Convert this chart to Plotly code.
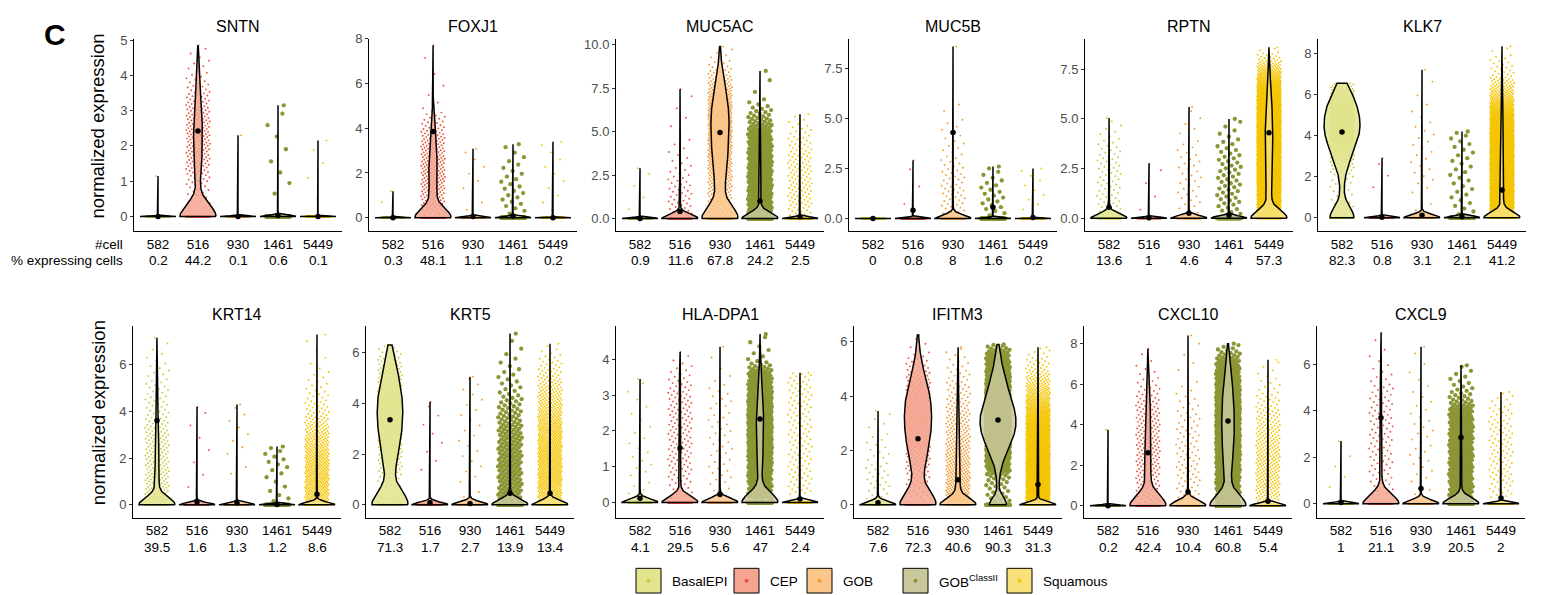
import numpy as np
import plotly.graph_objects as go

# ---------------- data ----------------
GROUPS = ["BasalEPI", "CEP", "GOB", "GOB<sup>ClassII</sup>", "Squamous"]
NCELL = [582, 516, 930, 1461, 5449]
GENES = ["SNTN", "FOXJ1", "MUC5AC", "MUC5B", "RPTN", "KLK7",
         "KRT14", "KRT5", "HLA-DPA1", "IFITM3", "CXCL10", "CXCL9"]

PCT = {
    "SNTN": [0.2, 44.2, 0.1, 0.6, 0.1],
    "FOXJ1": [0.3, 48.1, 1.1, 1.8, 0.2],
    "MUC5AC": [0.9, 11.6, 67.8, 24.2, 2.5],
    "MUC5B": [0, 0.8, 8, 1.6, 0.2],
    "RPTN": [13.6, 1, 4.6, 4, 57.3],
    "KLK7": [82.3, 0.8, 3.1, 2.1, 41.2],
    "KRT14": [39.5, 1.6, 1.3, 1.2, 8.6],
    "KRT5": [71.3, 1.7, 2.7, 13.9, 13.4],
    "HLA-DPA1": [4.1, 29.5, 5.6, 47, 2.4],
    "IFITM3": [7.6, 72.3, 40.6, 90.3, 31.3],
    "CXCL10": [0.2, 42.4, 10.4, 60.8, 5.4],
    "CXCL9": [1, 21.1, 3.9, 20.5, 2],
}

MAXV = {
    "SNTN": [1.15, 4.85, 2.3, 3.15, 2.15],
    "FOXJ1": [1.18, 7.7, 3.08, 3.29, 3.4],
    "MUC5AC": [2.9, 7.45, 9.9, 8.5, 6.0],
    "MUC5B": [0, 2.9, 8.6, 2.6, 2.5],
    "RPTN": [5.05, 2.75, 5.6, 5.0, 8.6],
    "KLK7": [6.55, 2.9, 7.2, 4.2, 8.35],
    "KRT14": [7.16, 4.2, 4.3, 2.5, 7.3],
    "KRT5": [6.3, 4.05, 5.05, 6.75, 6.35],
    "HLA-DPA1": [3.45, 4.2, 4.35, 4.7, 3.62],
    "IFITM3": [3.45, 6.25, 5.8, 5.9, 5.8],
    "CXCL10": [3.75, 7.75, 8.4, 8.0, 7.2],
    "CXCL9": [2.7, 7.35, 6.75, 5.95, 4.8],
}

MEANV = {
    "SNTN": [0, 2.42, 0, 0.03, 0],
    "FOXJ1": [0, 3.85, 0.05, 0.08, 0],
    "MUC5AC": [0, 0.4, 4.95, 1.0, 0.1],
    "MUC5B": [0, 0.42, 4.3, 0.57, 0.05],
    "RPTN": [0.55, 0.02, 0.25, 0.15, 4.3],
    "KLK7": [4.18, 0.02, 0.12, 0.05, 1.35],
    "KRT14": [3.62, 0.12, 0.08, 0.02, 0.45],
    "KRT5": [3.35, 0.08, 0.05, 0.45, 0.45],
    "HLA-DPA1": [0.12, 1.52, 0.22, 2.33, 0.1],
    "IFITM3": [0.08, 2.43, 0.92, 3.12, 0.75],
    "CXCL10": [0, 2.62, 0.68, 4.18, 0.22],
    "CXCL9": [0.05, 3.7, 0.65, 2.85, 0.25],
}

# density profile of the expressing cells (knot levels and relative densities)
KNOT_Y = {
    "SNTN": [[0.1, 1.15], [0.1, 0.8, 1.5, 2.4, 3.2, 4.0, 4.85], [0.1, 2.3], [0.5, 1.2, 2.0, 2.7, 3.15], [0.1, 1.7, 2.15]],
    "FOXJ1": [[0.2, 1.18], [0.1, 0.5, 1.5, 2.5, 3.5, 4.3, 5, 6, 7.7], [0.2, 3.08], [0.1, 0.5, 1.2, 2.2, 3.3], [0.2, 3.4]],
    "MUC5AC": [[0.2, 2.9], [0.1, 1, 2, 3, 4, 5, 6, 7.5], [0.1, 1, 2, 3, 4, 5, 6, 7, 8, 9, 9.9],
               [0.1, 1, 2, 3, 4, 5, 6, 6.5, 7, 8.5], [0.1, 1, 2, 3, 4, 5, 6]],
    "MUC5B": [[0, 0], [0.3, 2.9], [0.1, 1, 2, 3, 4, 5, 6], [0.1, 0.5, 1.2, 2, 2.6], [0.1, 2.5]],
    "RPTN": [[0.1, 1, 2, 3, 4, 5], [0.1, 2.75], [0.1, 1, 2, 3, 4, 5.6], [0.1, 1, 2, 3, 4, 5],
             [0.1, 1, 2, 3, 4, 5, 6, 7, 8, 8.6]],
    "KLK7": [[0.1, 0.5, 1, 2, 3, 4, 5, 6, 6.55], [1.2, 2.9], [0.2, 1, 2, 3, 4, 5, 6, 7.2], [0.1, 4.2],
             [0.1, 1, 2, 3, 4, 5, 6, 7, 8.35]],
    "KRT14": [[0.1, 1, 2, 3, 4, 5, 6, 7.16], [0.5, 4.2], [1.2, 4.3], [0.1, 0.5, 1, 1.8, 2.5],
              [0.1, 1, 2, 3, 4, 5, 6, 7.3]],
    "KRT5": [[0.1, 0.5, 1, 2, 3, 4, 5, 6, 6.3], [1.2, 4.05], [0.2, 5.05], [0.1, 1, 2, 3, 3.8, 4.5, 5.5, 6.75],
             [0.1, 1, 2, 3, 4, 5, 6, 6.35]],
    "HLA-DPA1": [[0.2, 1, 2, 3.45], [0.1, 0.5, 1, 2, 3, 3.5, 4.2], [0.3, 1, 2, 3, 3.6, 4.35],
                 [0.1, 0.5, 1, 1.5, 2, 2.5, 3, 3.5, 4, 4.7], [0.2, 3.62]],
    "IFITM3": [[0.2, 1, 2, 3.45], [0.1, 0.5, 1, 1.5, 2, 3, 4, 5, 5.5, 6.25], [0.1, 1, 2, 3, 4, 5, 5.8],
               [0.1, 0.5, 1, 1.5, 2, 2.5, 3, 3.5, 4, 5, 5.9], [0.1, 1, 2, 3, 4, 5, 5.8]],
    "CXCL10": [[0.1, 3.75], [0.1, 1, 2, 3, 4, 5, 6, 7, 7.75], [0.2, 1, 2, 3, 4, 5, 6, 8.4],
               [0.1, 1, 2, 3, 4, 5, 6, 7, 8], [0.2, 1, 2, 3, 4, 5, 6, 7.2]],
    "CXCL9": [[0.5, 2.7], [0.3, 1, 2, 3, 4, 5, 5.5, 6.5, 7.35], [0.3, 1, 2, 3, 4, 5, 6.75],
              [0.1, 1, 2, 3, 4, 4.5, 5, 6], [0.2, 1, 2, 3, 4, 4.8]],
}
KNOT_W = {
    "SNTN": [[1, 1], [0.1, 0.3, 0.8, 1, 0.7, 0.2, 0.05], [1, 1], [1, 1, 0.8, 1, 0.5], [0.3, 1, 0.5]],
    "FOXJ1": [[1, 1], [0.3, 0.7, 1, 1, 0.8, 0.4, 0.05, 0.03, 0.01], [1, 1], [0.6, 1, 1, 0.7, 0.3], [1, 1]],
    "MUC5AC": [[1, 1], [1, 1, 0.8, 0.4, 0.25, 0.12, 0.1, 0.05], [0.3, 0.4, 0.55, 0.75, 0.9, 1, 1, 0.8, 0.4, 0.12, 0.02],
               [1, 1, 1, 0.95, 0.85, 0.6, 0.3, 0.15, 0.03, 0.01], [0.6, 1, 1, 1, 0.8, 0.5, 0.1]],
    "MUC5B": [[1, 1], [1, 1], [1, 1, 0.9, 0.5, 0.35, 0.25, 0.05], [0.8, 1, 1, 0.7, 0.5], [1, 1]],
    "RPTN": [[1, 0.8, 0.8, 0.8, 0.4, 0.15], [1, 1], [0.8, 1, 1, 0.9, 0.5, 0.2], [0.8, 1, 1, 0.9, 0.5, 0.2],
             [0.5, 0.6, 0.9, 1, 1, 0.95, 0.7, 0.35, 0.08, 0.01]],
    "KLK7": [[0.15, 0.12, 0.08, 0.12, 0.5, 1, 1, 0.6, 0.35], [1, 1], [0.5, 0.6, 1, 1, 1, 0.6, 0.3, 0.1], [1, 1],
             [0.7, 1, 1, 1, 0.9, 0.6, 0.25, 0.06, 0.01]],
    "KRT14": [[1, 0.9, 0.8, 0.75, 0.4, 0.3, 0.15, 0.02], [1, 1], [1, 1], [1, 0.6, 0.5, 1, 0.8],
              [0.9, 1, 0.9, 0.6, 0.25, 0.1, 0.03, 0.01]],
    "KRT5": [[0.3, 0.2, 0.25, 0.6, 0.95, 1, 0.7, 0.25, 0.1], [1, 1], [1, 1], [1, 1, 1, 0.9, 0.6, 0.3, 0.15, 0.02],
             [0.8, 1, 1, 0.9, 0.6, 0.3, 0.08, 0.02]],
    "HLA-DPA1": [[1, 1, 0.6, 0.4], [0.3, 0.6, 0.9, 1, 0.9, 0.5, 0.05], [1, 1, 1, 0.9, 0.3, 0.05],
                 [0.35, 0.4, 0.6, 0.9, 1, 0.95, 0.75, 0.4, 0.05, 0.02], [1, 1]],
    "IFITM3": [[0.8, 1, 0.6, 0.2], [0.25, 0.2, 0.3, 0.5, 0.75, 1, 0.9, 0.35, 0.12, 0.02],
               [1, 0.9, 0.7, 0.5, 0.3, 0.15, 0.05],
               [0.05, 0.04, 0.06, 0.2, 0.5, 0.85, 1, 0.9, 0.65, 0.25, 0.05], [1, 1, 0.95, 0.75, 0.35, 0.1, 0.02]],
    "CXCL10": [[1, 1], [0.5, 0.8, 1, 1, 0.95, 0.75, 0.35, 0.1, 0.03], [0.8, 1, 1, 0.9, 0.8, 0.5, 0.2, 0.05],
               [0.35, 0.4, 0.6, 0.95, 1, 0.95, 0.7, 0.3, 0.03], [0.7, 1, 1, 0.9, 0.7, 0.4, 0.15, 0.05]],
    "CXCL9": [[1, 1], [0.4, 0.8, 1, 1, 1, 0.8, 0.4, 0.15, 0.05], [0.6, 0.8, 1, 1, 0.8, 0.5, 0.2],
              [0.7, 0.9, 1, 1, 0.8, 0.4, 0.2, 0.05], [0.7, 1, 1, 1, 0.8, 0.3]],
}

YTICKS = {
    "SNTN": [0, 1, 2, 3, 4, 5], "FOXJ1": [0, 2, 4, 6, 8], "MUC5AC": [0, 2.5, 5, 7.5, 10],
    "MUC5B": [0, 2.5, 5, 7.5], "RPTN": [0, 2.5, 5, 7.5], "KLK7": [0, 2, 4, 6, 8],
    "KRT14": [0, 2, 4, 6], "KRT5": [0, 2, 4, 6], "HLA-DPA1": [0, 1, 2, 3, 4],
    "IFITM3": [0, 2, 4, 6], "CXCL10": [0, 2, 4, 6, 8], "CXCL9": [0, 2, 4, 6],
}
YDEC = {"MUC5AC": 1, "MUC5B": 1, "RPTN": 1}
YRANGE = {
    "SNTN": [-0.42, 5.04], "FOXJ1": [-0.61, 8.01], "MUC5AC": [-0.74, 10.36], "MUC5B": [-0.64, 9.0],
    "RPTN": [-0.66, 9.04], "KLK7": [-0.66, 8.72], "KRT14": [-0.56, 7.66], "KRT5": [-0.52, 7.04],
    "HLA-DPA1": [-0.43, 4.92], "IFITM3": [-0.48, 6.57], "CXCL10": [-0.6, 8.86], "CXCL9": [-0.61, 7.63],
}

# ---------------- styling / layout ----------------
PT_COL = ["#C8CC3C", "#E9573E", "#F39A32", "#8C9634", "#F4C500"]
FILL_RGB = [(226, 228, 142), (244, 164, 144), (250, 198, 138), (201, 200, 155), (248, 224, 122)]
PT_SIZE = [1.9, 1.9, 1.9, 4.3, 1.9]
W, H = 1545, 595
PANEL_LEFT = [134, 369, 616, 849, 1085, 1318, 133, 366, 616, 854, 1084, 1317]
PANEL_W = 208
ROW_TOP = [32, 323]
ROW_BOT = [227, 517]
FONT = "Liberation Sans, Arial, Helvetica, sans-serif"
TICK_FS = 13.5
TITLE_FS = 16


def inv_cdf_values(ys, ws, m):
    ys = np.asarray(ys, float)
    ws = np.asarray(ws, float)
    if m <= 0:
        return np.array([])
    if ys[-1] <= ys[0]:
        return np.full(m, ys[0])
    grid = np.linspace(ys[0], ys[-1], 800)
    d = np.interp(grid, ys, ws)
    c = np.concatenate([[0], np.cumsum((d[1:] + d[:-1]) / 2 * np.diff(grid))])
    c /= c[-1]
    q = (np.arange(m) + 0.5) / m
    return np.interp(q, c, grid)


def group_values(n, pct, vmax, ys, ws):
    nz = int(round(n * pct / 100.0))
    if pct > 0 and nz < 1:
        nz = 1
    if nz == 0:
        return n, np.array([])
    vals = np.concatenate([[vmax], inv_cdf_values(ys, ws, nz - 1)])
    return n - nz, vals


def violin_outline(nzero, vals, vmax):
    if len(vals) == 0 or vmax <= 0:
        return np.array([0.0, 0.0]), np.array([0.45, 0.45])
    data = np.concatenate([np.zeros(nzero), vals])
    n = len(data)
    sd = data.std(ddof=1)
    q75, q25 = np.percentile(data, [75, 25])
    lo = min(sd, (q75 - q25) / 1.34)
    if lo <= 0:
        lo = sd if sd > 0 else 1.0
    bw = 0.9 * lo * n ** -0.2
    grid = np.linspace(0, vmax, 512)
    dens = nzero * np.exp(-0.5 * (grid / bw) ** 2)
    dens = dens + np.exp(-0.5 * ((grid[:, None] - vals[None, :]) / bw) ** 2).sum(axis=1)
    hw = 0.45 * dens / dens.max()
    return grid, hw


def jitter(i, seed):
    return ((i * 0.6180339887 + seed) % 1.0 - 0.5) * 2 * 0.3


fig = go.Figure()
layout = dict(width=W, height=H, margin=dict(l=0, r=0, t=0, b=0),
              paper_bgcolor="white", plot_bgcolor="white", showlegend=False,
              font=dict(family=FONT, color="black"))
annotations = []
shapes = []

for k, gene in enumerate(GENES):
    row = k // 6
    ax = "" if k == 0 else str(k + 1)
    xref, yref = "x" + ax, "y" + ax
    left = PANEL_LEFT[k]
    x0p, x1p = left / W, (left + PANEL_W) / W
    y0p, y1p = 1 - ROW_BOT[row] / H, 1 - ROW_TOP[row] / H

    pts_traces, vio_traces, mean_x, mean_y = [], [], [], []
    for j in range(5):
        nzero, vals = group_values(NCELL[j], PCT[gene][j], MAXV[gene][j],
                                   KNOT_Y[gene][j], KNOT_W[gene][j])
        nz_draw = min(nzero, 150)
        zx = [j + jitter(i, 0.13 + 0.07 * j) for i in range(nz_draw)]
        vx = [j + jitter(i, 0.41 + 0.11 * j) for i in range(len(vals))]
        pts_traces.append(go.Scatter(
            x=zx + vx, y=[0.0] * nz_draw + list(vals), mode="markers",
            marker=dict(size=PT_SIZE[j], color=PT_COL[j], line=dict(width=0)),
            hoverinfo="skip", xaxis=xref, yaxis=yref))
        g, hw = violin_outline(nzero, vals, MAXV[gene][j])
        r, gg, b = FILL_RGB[j]
        if len(g) == 2 and g[-1] == 0:
            vio_traces.append(go.Scatter(
                x=[j - 0.45, j + 0.45], y=[0, 0], mode="lines",
                line=dict(color="black", width=1.5), hoverinfo="skip", xaxis=xref, yaxis=yref))
        else:
            vx_ = np.concatenate([j + hw, (j - hw)[::-1], [j + hw[0]]])
            vy_ = np.concatenate([g, g[::-1], [g[0]]])
            vio_traces.append(go.Scatter(
                x=vx_, y=vy_, mode="lines", fill="toself",
                fillcolor=f"rgba({r},{gg},{b},0.85)",
                line=dict(color="black", width=1.5), hoverinfo="skip", xaxis=xref, yaxis=yref))
        mean_x.append(j)
        mean_y.append(MEANV[gene][j])
    for t in pts_traces:
        fig.add_trace(t)
    for t in vio_traces:
        fig.add_trace(t)
    fig.add_trace(go.Scatter(x=mean_x, y=mean_y, mode="markers",
                             marker=dict(size=5.5, color="black"), hoverinfo="skip",
                             xaxis=xref, yaxis=yref))

    dec = YDEC.get(gene, 0)
    layout["xaxis" + ax] = dict(
        domain=[x0p, x1p], range=[-0.6, 4.6], anchor=yref, showgrid=False, zeroline=False,
        showline=True, linecolor="black", linewidth=1, tickmode="array",
        tickvals=list(range(5)), ticktext=[str(c) for c in NCELL], ticks="",
        tickfont=dict(size=TICK_FS, color="black", family=FONT))
    layout["yaxis" + ax] = dict(
        domain=[y0p, y1p], range=YRANGE[gene], anchor=xref, showgrid=False, zeroline=False,
        showline=True, linecolor="black", linewidth=1, tickmode="array",
        tickvals=YTICKS[gene], ticktext=[f"{v:.{dec}f}" for v in YTICKS[gene]],
        ticks="outside", ticklen=3, tickcolor="#333333",
        tickfont=dict(size=13, color="#4D4D4D", family=FONT))

    annotations.append(dict(text=gene, xref="paper", yref="paper", x=(x0p + x1p) / 2,
                            y=1 - (ROW_TOP[row] - 12) / H, showarrow=False,
                            font=dict(size=TITLE_FS, color="black", family=FONT),
                            xanchor="center", yanchor="middle"))
    for j in range(5):
        p = PCT[gene][j]
        annotations.append(dict(text=f"{p:g}", xref=xref, yref="paper", x=j,
                                y=1 - (ROW_BOT[row] + 30) / H, showarrow=False,
                                font=dict(size=TICK_FS, color="black", family=FONT),
                                xanchor="center", yanchor="middle"))

annotations += [
    dict(text="#cell", xref="paper", yref="paper", x=125 / W, y=1 - 240 / H, showarrow=False,
         xanchor="right", yanchor="middle", font=dict(size=TICK_FS, color="black", family=FONT)),
    dict(text="% expressing cells", xref="paper", yref="paper", x=125 / W, y=1 - 257 / H,
         showarrow=False, xanchor="right", yanchor="middle",
         font=dict(size=TICK_FS, color="black", family=FONT)),
    dict(text="normalized expression", xref="paper", yref="paper", x=98 / W, y=1 - 121 / H,
         textangle=-90, showarrow=False, xanchor="center", yanchor="middle",
         font=dict(size=18.5, color="black", family=FONT)),
    dict(text="normalized expression", xref="paper", yref="paper", x=98 / W, y=1 - 411 / H,
         textangle=-90, showarrow=False, xanchor="center", yanchor="middle",
         font=dict(size=18.5, color="black", family=FONT)),
    dict(text="<b>C</b>", xref="paper", yref="paper", x=55 / W, y=1 - 28 / H, showarrow=False,
         xanchor="center", yanchor="middle", font=dict(size=30, color="black", family=FONT)),
]

LEG_BOX_X = [636, 734, 807, 903, 1007]
for j in range(5):
    bx = LEG_BOX_X[j]
    r, gg, b = FILL_RGB[j]
    shapes.append(dict(type="rect", xref="paper", yref="paper", x0=bx / W, x1=(bx + 25) / W,
                       y0=1 - 593 / H, y1=1 - 568 / H, line=dict(color="black", width=1),
                       fillcolor=f"rgb({r},{gg},{b})"))
    cx, cy = bx + 12.5, 580.5
    shapes.append(dict(type="circle", xref="paper", yref="paper", x0=(cx - 2) / W, x1=(cx + 2) / W,
                       y0=1 - (cy + 2) / H, y1=1 - (cy - 2) / H, line=dict(width=0),
                       fillcolor=PT_COL[j]))
    annotations.append(dict(text=GROUPS[j], xref="paper", yref="paper", x=(bx + 34) / W,
                            y=1 - 581 / H, showarrow=False, xanchor="left", yanchor="middle",
                            font=dict(size=13.5, color="black", family=FONT)))

layout["annotations"] = annotations
layout["shapes"] = shapes
fig.update_layout(**layout)
fig.write_html("out.html", config={"displayModeBar": False},
               post_script="document.body.style.margin='0px';")
